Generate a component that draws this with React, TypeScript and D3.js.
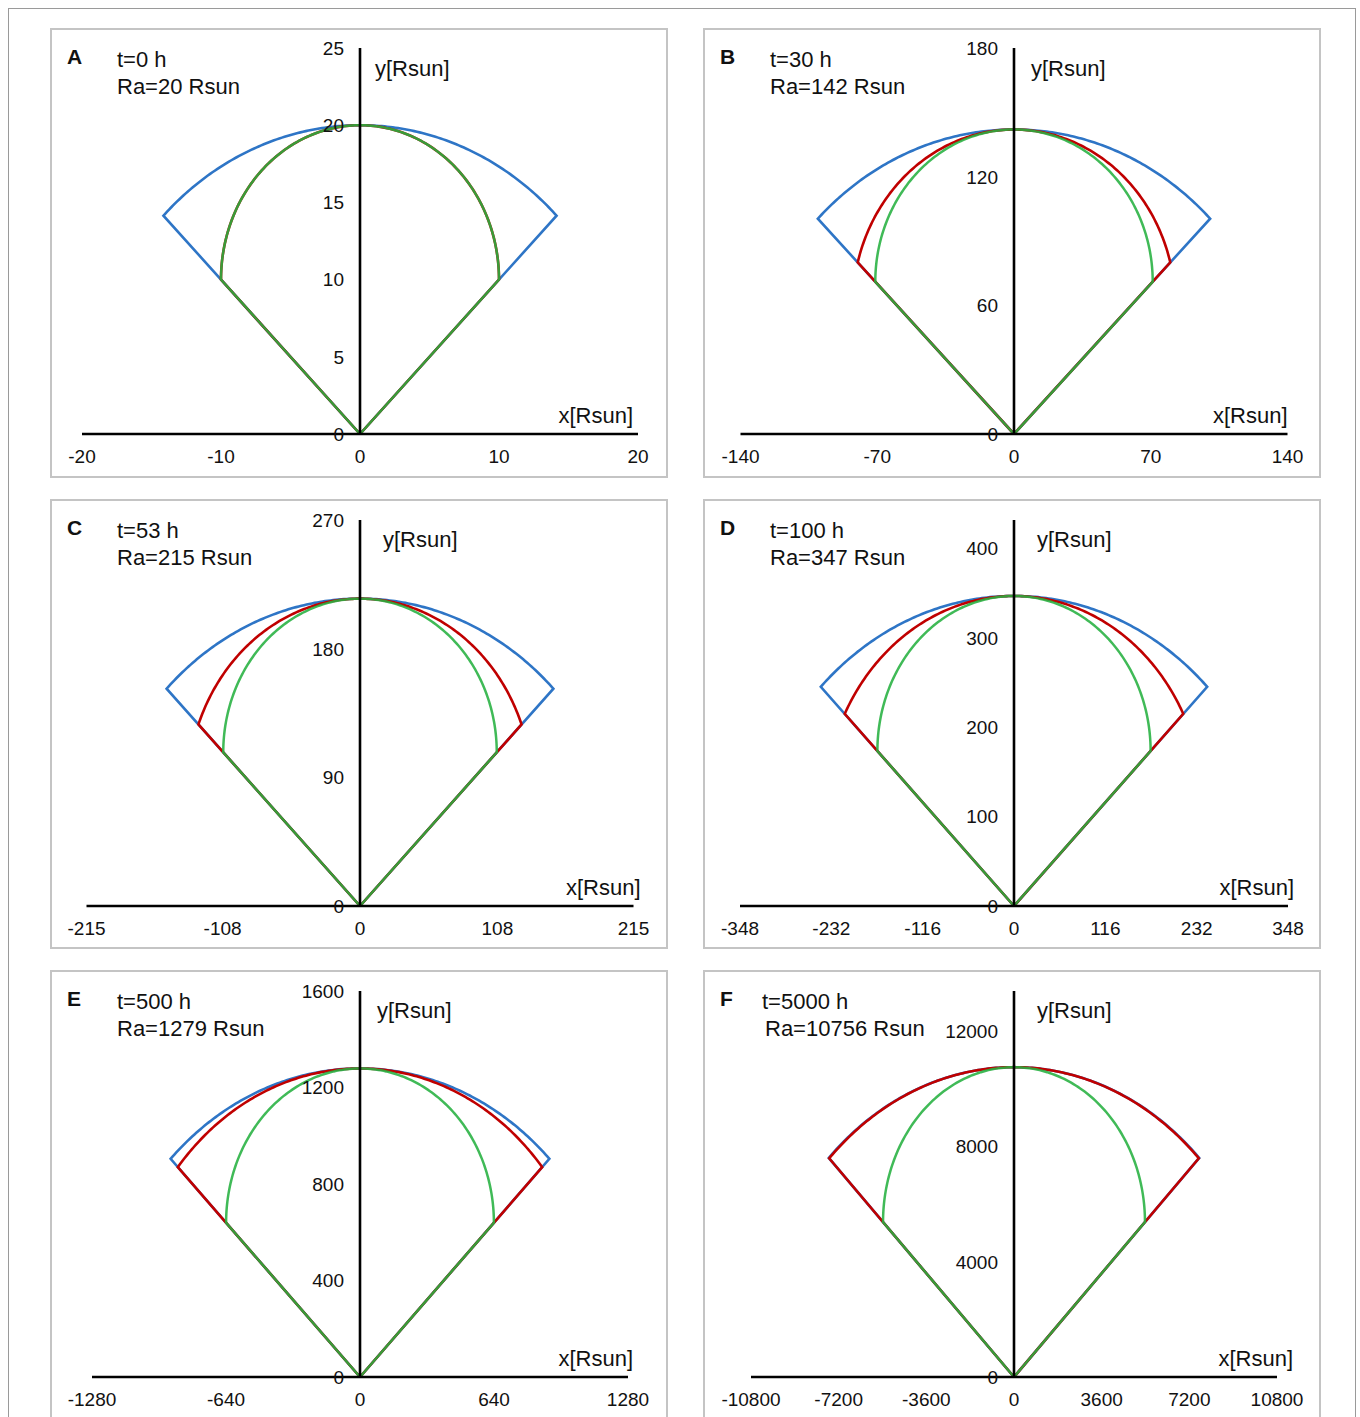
import React from 'react';
import * as d3 from 'd3';

// ---- data ----
const panelLetters = ['A', 'B', 'C', 'D', 'E', 'F'];
const timesH = [0, 30, 53, 100, 500, 5000];
const raValues = [20, 142, 215, 347, 1279, 10756];
// x (=y) where the red front meets the cone edge
const redMeet = [10, 80, 127, 215, 870, 7590];
const xMax = [20, 140, 215, 348, 1280, 10800];
const yMax = [25, 180, 270, 432, 1600, 13400];
const xTicks = [
  [-20, -10, 0, 10, 20],
  [-140, -70, 0, 70, 140],
  [-215, -108, 0, 108, 215],
  [-348, -232, -116, 0, 116, 232, 348],
  [-1280, -640, 0, 640, 1280],
  [-10800, -7200, -3600, 0, 3600, 7200, 10800],
];
const yTicks = [
  [0, 5, 10, 15, 20, 25],
  [0, 60, 120, 180],
  [0, 90, 180, 270],
  [0, 100, 200, 300, 400],
  [0, 400, 800, 1200, 1600],
  [0, 4000, 8000, 12000],
];

// ---- layout ----
const colLeft = [51, 704];
const rowTop = [29, 500, 971];
const centerX = [360, 1014];
const zeroY = [434, 906, 1377];
const halfW = [278, 273.5, 273.5, 274, 268, 263];
const axisH = 386;
const panelW = 616;
const panelH = 448;
const yLabelDx = [15, 17, 23, 23, 17, 23];
const xLabelDx = [-5, 0, 7, 6, 5, 16];
const titleDx = [[66, 66], [66, 66], [66, 66], [66, 66], [66, 66], [58, 61]];

const BLUE = '#2e75c6';
const RED = '#c00000';
const GREEN = '#26b040';
const FONT = '"Liberation Sans", Arial, Helvetica, sans-serif';

function arcPoints(cx: number, cy: number, r: number, a0: number, a1: number, n = 160) {
  const pts: [number, number][] = [];
  for (let i = 0; i <= n; i++) {
    const a = a0 + (a1 - a0) * (i / n);
    pts.push([cx + r * Math.cos(a), cy + r * Math.sin(a)]);
  }
  return pts;
}

function Panel({ i }: { i: number }) {
  const col = i % 2;
  const row = Math.floor(i / 2);
  const left = colLeft[col];
  const top = rowTop[row];
  const cx = centerX[col];
  const zy = zeroY[row];
  const ra = raValues[i];
  const x = d3.scaleLinear().domain([-xMax[i], xMax[i]]).range([cx - halfW[i], cx + halfW[i]]);
  const y = d3.scaleLinear().domain([0, yMax[i]]).range([zy, zy - axisH]);
  const line = d3
    .line<[number, number]>()
    .x((d) => x(d[0]))
    .y((d) => y(d[1]));

  // blue: sector radius Ra, half-angle 45deg
  const bluePts: [number, number][] = [
    [0, 0],
    ...arcPoints(0, 0, ra, (3 * Math.PI) / 4, Math.PI / 4),
    [0, 0],
  ];
  // green: circle centred at Ra/2 with radius Ra/2
  const g = ra / 2;
  const greenPts: [number, number][] = [[0, 0], ...arcPoints(0, g, g, Math.PI, 0), [0, 0]];
  // red: circle through top (0,Ra) and (+-p,p)
  const p = redMeet[i];
  const c = (ra * ra - 2 * p * p) / (2 * (ra - p));
  const rr = ra - c;
  const a0 = Math.atan2(p - c, -p);
  const a1 = Math.atan2(p - c, p);
  const redPts: [number, number][] = [[0, 0], ...arcPoints(0, c, rr, a0, a1), [0, 0]];

  return (
    <g>
      <rect x={left} y={top} width={panelW} height={panelH} fill="white" stroke="#c4c4c4" strokeWidth={2} />
      <path d={line(bluePts) || ''} fill="none" stroke={BLUE} strokeWidth={2.6} strokeLinejoin="miter" />
      <path d={line(redPts) || ''} fill="none" stroke={RED} strokeWidth={2.6} />
      <path d={line(greenPts) || ''} fill="none" stroke={GREEN} strokeWidth={2.5} strokeOpacity={0.88} />
      {/* axes */}
      <line x1={x(-xMax[i])} x2={x(xMax[i])} y1={zy} y2={zy} stroke="black" strokeWidth={2.6} />
      <line x1={cx} x2={cx} y1={zy} y2={zy - axisH} stroke="black" strokeWidth={2.6} />
      {xTicks[i].map((t) => (
        <text key={'x' + t} x={x(t)} y={zy + 29} fontSize={19} textAnchor="middle" fontFamily={FONT} fill="#111">
          {t}
        </text>
      ))}
      {yTicks[i].map((t) => (
        <text
          key={'y' + t}
          x={cx - 16}
          y={y(t)}
          dy="0.36em"
          fontSize={19}
          textAnchor="end"
          fontFamily={FONT}
          fill="#111"
        >
          {t}
        </text>
      ))}
      <text x={cx + xLabelDx[i] + halfW[i]} y={zy - 11} fontSize={22} textAnchor="end" fontFamily={FONT} fill="#111">
        x[Rsun]
      </text>
      <text x={cx + yLabelDx[i]} y={top + 47} fontSize={22} fontFamily={FONT} fill="#111">
        y[Rsun]
      </text>
      <text x={left + 16} y={top + 35} fontSize={21} fontWeight="bold" fontFamily={FONT} fill="#111">
        {panelLetters[i]}
      </text>
      <text x={left + titleDx[i][0]} y={top + 38} fontSize={22} fontFamily={FONT} fill="#111">
        {`t=${timesH[i]} h`}
      </text>
      <text x={left + titleDx[i][1]} y={top + 65} fontSize={22} fontFamily={FONT} fill="#111">
        {`Ra=${ra} Rsun`}
      </text>
    </g>
  );
}

export default function App() {
  return (
    <svg
      width={1360}
      height={1417}
      viewBox="0 0 1360 1417"
      style={{ position: 'absolute', left: 0, top: 0, display: 'block', background: 'white' }}
    >
      <rect x={0} y={0} width={1360} height={1417} fill="white" />
      <rect x={8.5} y={8.5} width={1347} height={1430} fill="none" stroke="#9a9a9a" strokeWidth={1} />
      {panelLetters.map((_, i) => (
        <Panel key={i} i={i} />
      ))}
    </svg>
  );
}
